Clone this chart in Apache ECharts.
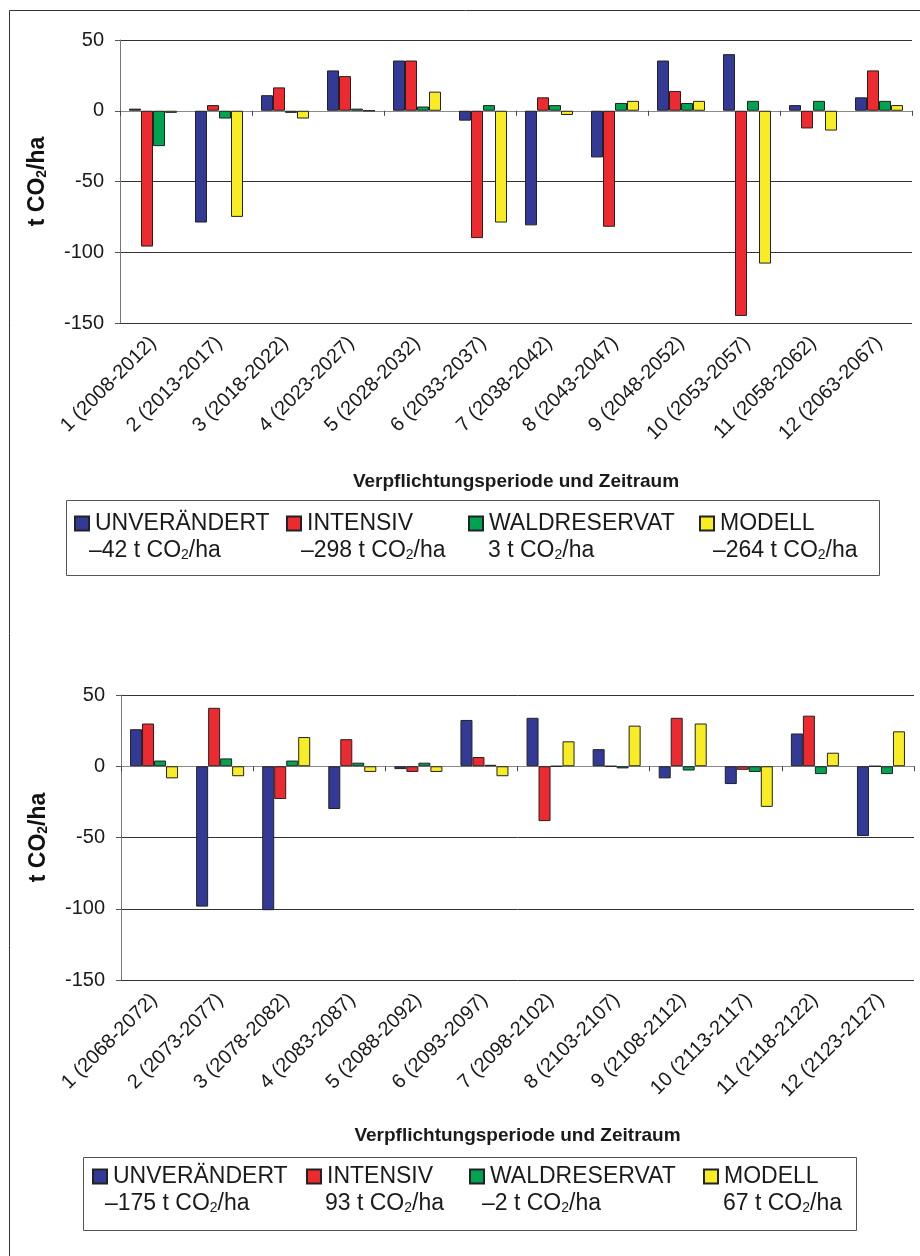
<!DOCTYPE html>
<html>
<head>
<meta charset="utf-8">
<title>CO2-Bilanz je Verpflichtungsperiode</title>
<script src="https://cdn.jsdelivr.net/npm/echarts@6/dist/echarts.min.js"></script>
<style>
  html, body { margin: 0; padding: 0; background: #fff; }
  #chart { width: 920px; height: 1256px; }
</style>
</head>
<body>
<div id="chart"></div>
<script>
// Szenarien und Farben
var seriesNames = ["UNVERÄNDERT", "INTENSIV", "WALDRESERVAT", "MODELL"];
var colors = ["#333a96", "#ec2a30", "#00a34f", "#f8ec25"];

// Kategorien
var periodsTop = ["1 (2008-2012)", "2 (2013-2017)", "3 (2018-2022)", "4 (2023-2027)",
  "5 (2028-2032)", "6 (2033-2037)", "7 (2038-2042)", "8 (2043-2047)",
  "9 (2048-2052)", "10 (2053-2057)", "11 (2058-2062)", "12 (2063-2067)"];
var periodsBottom = ["1 (2068-2072)", "2 (2073-2077)", "3 (2078-2082)", "4 (2083-2087)",
  "5 (2088-2092)", "6 (2093-2097)", "7 (2098-2102)", "8 (2103-2107)",
  "9 (2108-2112)", "10 (2113-2117)", "11 (2118-2122)", "12 (2123-2127)"];

// Werte t CO2/ha, oberes Diagramm
var unvTop = [1.5, -79, 11, 28.5, 35.5, -7, -81, -33, 35.5, 40, 4, 9.5];
var intTop = [-96, 4, 16.5, 24.5, 35.5, -90, 9.5, -82, 14, -145, -12.5, 28.5];
var walTop = [-25, -5.5, -1.5, 1.5, 3, 4, 4, 5.5, 5.5, 7, 7, 7];
var modTop = [-1.5, -75, -5.5, 0, 13.5, -79, -3, 7, 7, -108, -14, 4];

// Werte t CO2/ha, unteres Diagramm
var unvBottom = [26, -98.5, -101, -30, -2, 32.5, 34, 12, -8.5, -12.5, 23, -49];
var intBottom = [30, 41, -23, 19, -4, 6.5, -38.5, 0, 34, -2.5, 35.5, 0];
var walBottom = [4, 5.5, 4, 2.5, 2.5, 1, 0, -1.5, -3, -4, -5.5, -5.5];
var modBottom = [-8.5, -7, 20.5, -4, -4, -7, 17.5, 28.5, 30, -28.5, 9.5, 24.5];

// Summen in der Legende
var totalsTop = ["–42", "–298", "3", "–264"];
var totalsBottom = ["–175", "93", "–2", "67"];

// Achse
var yMin = -150, yMax = 50, yStep = 50;

var font = "Liberation Sans, Arial, sans-serif";
var textColor = "#1a1a1a";

// Position der Legenden (Symbol x, Text x der Summe)
var legendLayout = [
  { boxX: 66, boxY: 500, boxW: 813, boxH: 75, rowY: 512, valY: 551,
    iconX: [74, 286, 468, 699], valX: [89, 301, 488, 713] },
  { boxX: 83, boxY: 1157, boxW: 773, boxH: 73, rowY: 1165, valY: 1204,
    iconX: [92, 306, 469, 703], valX: [105, 325, 482, 723] }
];

var allData = [
  [unvTop, intTop, walTop, modTop],
  [unvBottom, intBottom, walBottom, modBottom]
];
var allPeriods = [periodsTop, periodsBottom];
var allTotals = [totalsTop, totalsBottom];

var grids = [
  { left: 120, top: 40, right: 8, height: 283 },
  { left: 121, top: 695, right: 6, height: 285 }
];

var xAxes = [], yAxes = [], series = [], legends = [], graphics = [];

// Rahmen um alles
graphics.push({
  type: "rect", z: 0, silent: true,
  shape: { x: 9.5, y: 10.5, width: 1000, height: 1400 },
  style: { fill: "none", stroke: "#333", lineWidth: 1 }
});

grids.forEach(function (g, gi) {
  // Beschriftete Achse unten
  xAxes.push({
    type: "category", gridIndex: gi, position: "bottom",
    data: allPeriods[gi],
    axisLine: { show: false, onZero: false },
    axisTick: { show: false },
    axisLabel: { interval: 0, rotate: 45, fontSize: 20, margin: 17, color: textColor, fontFamily: font },
    name: "Verpflichtungsperiode und Zeitraum",
    nameLocation: "middle",
    nameGap: gi === 0 ? 149 : 146,
    nameTextStyle: { fontSize: 19, fontWeight: "bold", color: textColor, fontFamily: font }
  });
  // Nulllinie mit Strichen
  xAxes.push({
    type: "category", gridIndex: gi, position: "bottom",
    data: allPeriods[gi],
    axisLine: { show: true, onZero: true, lineStyle: { color: "#8a8a8a", width: 1 } },
    axisTick: { show: true, length: 5, lineStyle: { color: "#444" } },
    axisLabel: { show: false }
  });
  yAxes.push({
    type: "value", gridIndex: gi,
    min: yMin, max: yMax, interval: yStep,
    axisLine: { show: true, lineStyle: { color: "#777" } },
    axisTick: { show: true, length: 5, lineStyle: { color: "#555" } },
    axisLabel: { fontSize: 20, margin: 16, color: textColor, fontFamily: font },
    splitLine: { lineStyle: { color: "#333", width: 1 } },
    name: "{b|t CO}{s|2}{b|/ha}",
    nameLocation: "middle",
    nameGap: 71,
    nameRotate: 90,
    nameTextStyle: {
      rich: {
        b: { fontSize: 23, fontWeight: "bold", color: "#111", fontFamily: font },
        s: { fontSize: 14, fontWeight: "bold", color: "#111", fontFamily: font, verticalAlign: "bottom" }
      }
    }
  });

  seriesNames.forEach(function (name, si) {
    series.push({
      name: name, type: "bar",
      xAxisIndex: gi * 2, yAxisIndex: gi,
      data: allData[gi][si],
      barWidth: 12, barGap: "0%",
      itemStyle: { color: colors[si], borderColor: "#222", borderWidth: 1 },
      emphasis: { disabled: true }
    });
  });

  var L = legendLayout[gi];
  graphics.push({
    type: "rect", silent: true,
    shape: { x: L.boxX + 0.5, y: L.boxY + 0.5, width: L.boxW, height: L.boxH },
    style: { fill: "none", stroke: "#555", lineWidth: 1 }
  });
  seriesNames.forEach(function (name, si) {
    legends.push({
      data: [name], left: L.iconX[si], top: L.rowY,
      padding: 0, itemWidth: 14, itemHeight: 14, itemGap: 6,
      icon: "rect", selectedMode: false,
      textStyle: { fontSize: 23, color: textColor, fontFamily: font, padding: [0, 0, 0, 1] }
    });
    graphics.push({
      type: "text", x: L.valX[si], y: L.valY, silent: true,
      style: {
        text: "{v|" + allTotals[gi][si] + " t CO}{s|2}{v|/ha}",
        verticalAlign: "middle",
        rich: {
          v: { fontSize: 23, fill: textColor, fontFamily: font },
          s: { fontSize: 14, fill: textColor, fontFamily: font, verticalAlign: "bottom" }
        }
      }
    });
  });
});

var myChart = echarts.init(document.getElementById("chart"));
myChart.setOption({
  backgroundColor: "#fff",
  animation: false,
  textStyle: { fontFamily: font },
  grid: grids,
  xAxis: xAxes,
  yAxis: yAxes,
  legend: legends,
  series: series,
  graphic: graphics
});
</script>
</body>
</html>
